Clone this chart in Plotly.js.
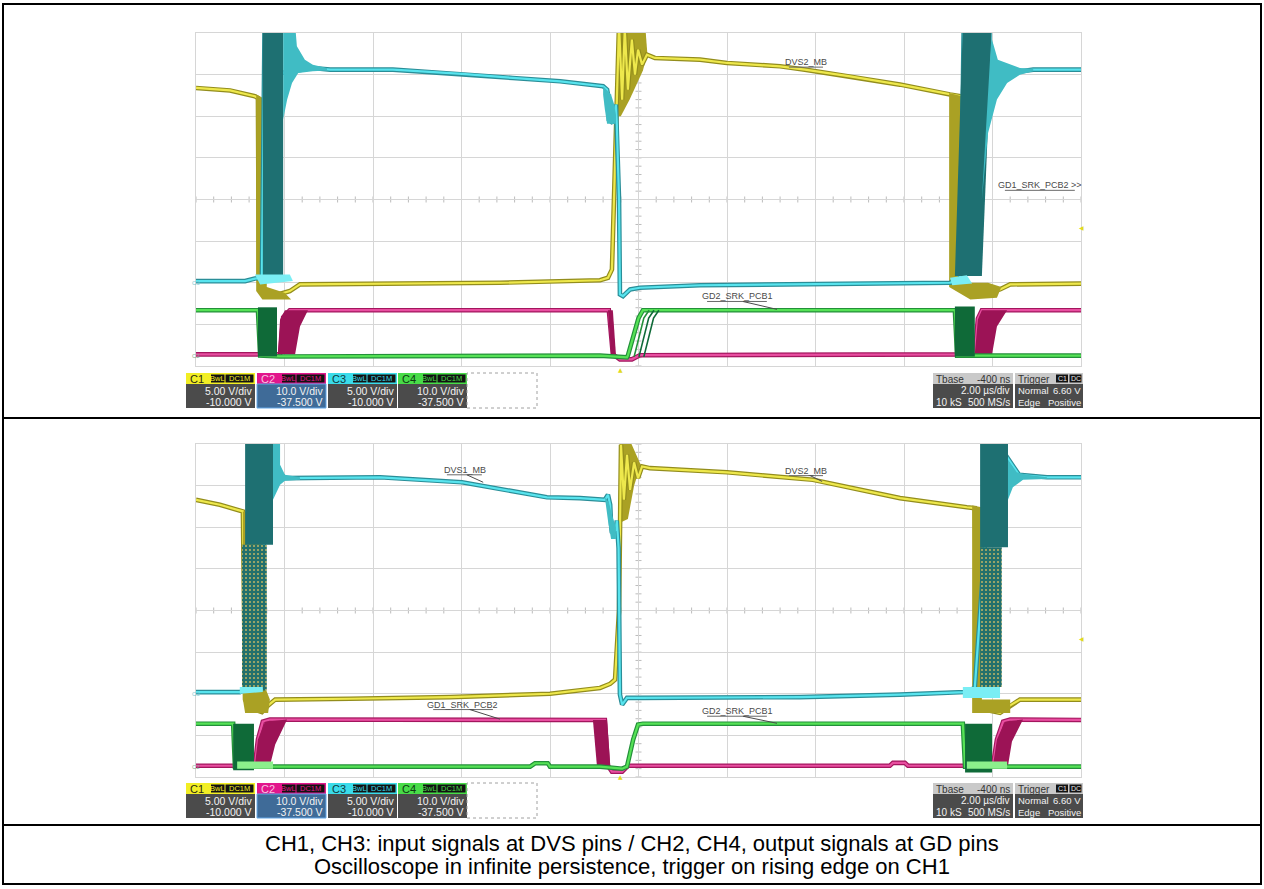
<!DOCTYPE html>
<html>
<head>
<meta charset="utf-8">
<script src="https://cdn.plot.ly/plotly-3.0.1.min.js"></script>
<style>
html,body{margin:0;padding:0;background:#ffffff;overflow:hidden;}
#chart{width:1264px;height:889px;}
</style>
</head>
<body>
<div id="chart"></div>
<script>
// ===== Scope settings (read from the on-screen readouts) =====
const channels      = ['C1', 'C2', 'C3', 'C4'];
const voltsPerDiv   = [5.00, 10.0, 5.00, 10.0];
const channelOffset = [-10.000, -37.500, -10.000, -37.500];
const bwTag = 'BwL', couplingTag = 'DC1M';
const tbaseNs = -400;
const timePerDivUs = 2.00;
const sampleCount = '10 kS', sampleRate = '500 MS/s';
const trigMode = 'Normal', trigType = 'Edge', trigSlope = 'Positive', trigSource = 'C1', trigCoupling = 'DC';
const triggerLevel = 6.60;
const captionLines = [
  'CH1, CH3: input signals at DVS pins / CH2, CH4, output signals at GD pins',
  'Oscilloscope in infinite persistence, trigger on rising edge on CH1'
];

// ===== Top capture (time in µs, values in V) =====
// C1 (yellow, DVS2_MB)
const topC1_t = [-9.6,-8.83,-8.27,-8.20,-8.18,-8.11,-7.81,-7.48,-7.25,-4.99,-2.73,-0.47,-0.29,-0.20,-0.04,0.03,0.09,0.16,0.25,0.32,0.39,0.48,0.59,0.77,1.79,2.40,3.60,4.16,5.18,6.31,7.44,7.67,7.71,8.00,8.57,8.80,10.4];
const topC1_v = [23.4,23.1,22.4,22.2,0.4,-1.0,-1.5,-1.0,-0.2,-0.1,0.0,0.3,0.6,1.6,31,22.0,30.5,23.2,29.2,25.0,28.0,26.2,27.4,27.0,26.8,26.4,26.0,25.6,24.8,23.8,22.6,22.4,-0.2,-1.6,-0.8,-0.2,-0.1];
const topC1_persL_t = [-8.24,-8.02,-8.00,-7.60,-7.45,-8.10,-8.24];
const topC1_persL_v = [22.6,22.0,-0.5,-1.2,-2.0,-2.0,-1.0];
const topC1_ring_t = [-0.05,0.55,0.60,0.50,0.20,0.00,-0.05];
const topC1_ring_v = [31,31,27.5,25.5,22.0,20.0,20.0];
const topC1_persR_t = [7.42,7.71,7.73,8.30,8.60,8.50,7.90,7.42];
const topC1_persR_v = [22.8,22.4,0.0,0.0,-0.5,-1.8,-2.0,-0.5];
// C3 (cyan, DVS1_MB)
const topC3_t = [-9.6,-8.49,-8.27,-8.11,-8.05,-7.9,-6.96,-6.57,-5.15,-3.59,-2.44,-1.37,-0.40,-0.31,-0.27,-0.27,-0.18,-0.11,-0.09,-0.04,-0.02,0.05,0.21,0.43,1.79,4.05,6.31,7.44,7.67,7.75,8.5,9.32,10.4];
const topC3_v = [0.2,0.2,0.5,0.6,31,25,25.8,25.6,25.6,25.1,24.6,24.2,23.6,23.2,22.0,19.6,19.2,21.4,19.0,10,-1.4,-1.6,-0.8,-0.6,-0.3,-0.2,-0.1,0.0,0.4,31,25.0,25.6,25.6];
const topC3_blockL_t = [-8.09,-7.63,-7.63,-8.09];
const topC3_blockL_v = [31,31,0.5,0.5];
const topC3_fanL_t = [-7.63,-7.36,-7.32,-7.14,-6.96,-6.64,-6.64,-6.96,-7.29,-7.43,-7.54,-7.63];
const topC3_fanL_v = [31,31,28.4,26.8,26.2,25.8,25.5,25.4,25.2,24.0,22.0,19.6];
const topC3_blobL_t = [-8.27,-7.48,-7.41,-8.15];
const topC3_blobL_v = [1.0,1.0,0.2,-0.2];
const topC3_trig_t = [-0.40,-0.22,-0.15,-0.11,-0.11,-0.31,-0.36,-0.40];
const topC3_trig_v = [23.6,22.6,21.4,20.2,19.1,19.1,20.8,22.6];
const topC3_blockR_t = [7.73,8.39,8.16,7.55];
const topC3_blockR_v = [31,31,0.8,0.8];
const topC3_fanR_t = [8.39,8.39,8.52,8.73,9.02,9.32,9.32,9.02,8.73,8.50,8.30,8.16];
const topC3_fanR_v = [31,29.2,26.8,26.4,25.8,25.7,25.4,25.0,24.0,22.0,18.0,10.0];
const topC3_blobR_t = [7.44,7.82,7.94,7.49];
const topC3_blobR_v = [0.6,0.9,-0.1,-0.3];
// C2 (magenta, GD1_SRK_PCB2)
const topC2_t = [-9.6,-7.70,-7.63,-7.48,-0.27,-0.18,-0.02,0.25,0.43,8.00,8.07,8.16,10.4];
const topC2_v = [0.3,0.3,9.2,10.9,10.9,0.3,-0.9,-0.9,0.1,0.3,8.9,10.9,10.9];
const topC2_persL_t = [-7.75,-7.70,-7.59,-7.07,-7.25,-7.36];
const topC2_persL_v = [0.3,8.7,10.9,10.9,7.0,0.3];
const topC2_persF_t = [-0.29,-0.18,-0.11,-0.22];
const topC2_persF_v = [10.9,10.9,0.3,0.3];
const topC2_persR_t = [8.00,8.07,8.16,8.73,8.50,8.39];
const topC2_persR_v = [0.3,8.7,10.9,10.9,7.0,0.3];
// C4 (green, GD2_SRK_PCB1)
const topC4_t = [-9.6,-8.20,-8.15,-7.70,-0.47,-0.02,0.14,0.16,0.40,0.50,7.55,7.60,10.4];
const topC4_v = [10.9,10.9,0.0,-0.2,0.0,-0.4,-0.4,0.0,9.0,10.9,10.9,0.0,0.0];
const topC4_echoA_t = [0.30,0.52,0.64], topC4_echoA_v = [-0.3,9.0,10.9];
const topC4_echoB_t = [0.41,0.63,0.75], topC4_echoB_v = [-0.3,9.0,10.9];
const topC4_echoC_t = [0.52,0.74,0.86], topC4_echoC_v = [-0.3,9.0,10.9];
const topC4_blockL_t = [-8.20,-7.77,-7.77,-8.20];
const topC4_blockL_v = [11.6,11.6,-0.2,-0.2];
const topC4_blockR_t = [7.55,8.00,8.00,7.55];
const topC4_blockR_v = [11.8,11.8,-0.2,-0.2];

// ===== Bottom capture =====
const botC1_t = [-9.6,-9.06,-8.54,-8.52,-8.49,-8.38,-8.11,-7.97,-7.81,-6.12,-3.86,-1.60,-0.47,-0.24,-0.13,-0.04,0.005,0.07,0.14,0.21,0.30,0.39,0.48,0.66,2.40,4.34,6.31,7.82,8.00,8.05,8.23,8.57,8.80,9.02,10.4];
const botC1_v = [23.3,22.7,21.9,10,-0.7,-1.7,-2.2,-1.4,-0.7,-0.6,-0.4,0.0,0.7,1.2,1.7,10,29.9,23.3,28.7,24.5,27.8,25.9,27.3,27.1,26.6,25.7,23.5,22.4,22.3,-0.7,-1.9,-2.3,-1.4,-0.7,-0.7];
const botC1_persL_t = [-8.54,-8.11,-8.02,-7.93,-7.97,-8.49,-8.54];
const botC1_persL_v = [21.9,21.9,0.5,-0.7,-2.3,-2.3,-0.7];
const botC1_ring_t = [-0.03,0.20,0.45,0.30,0.16,-0.03];
const botC1_ring_v = [30.5,30.5,27.5,25.0,21.0,20.5];
const botC1_persR_t = [7.94,8.16,8.16,8.80,8.80,7.94];
const botC1_persR_v = [22.6,22.4,-0.7,-0.7,-2.3,-2.3];
const botC3_t = [-9.6,-8.61,-8.38,-8.16,-8.0,-7.7,-7.59,-5.44,-3.59,-1.67,-0.92,-0.36,-0.29,-0.24,-0.22,-0.20,-0.11,-0.09,-0.05,-0.02,0.03,0.14,0.43,4.05,6.31,7.78,8.00,8.4,9.0,9.63,10.4];
const botC3_v = [0.2,0.2,0.7,0.6,31,26.5,25.9,26.0,25.4,23.6,23.5,23.3,23.9,22.7,20.3,19.3,19.7,20.8,17.5,-0.1,-1.3,-0.5,-0.5,-0.4,-0.1,0.2,0.7,31,26.3,26.0,26.0];
const botC3_blockL_t = [-8.49,-7.86,-7.86,-8.49];
const botC3_blockL_v = [31,31,17.9,17.9];
const botC3_speckL_t = [-8.56,-8.00,-8.00,-8.56];
const botC3_speckL_v = [17.9,17.9,0.4,0.4];
const botC3_fanL_t = [-7.86,-7.70,-7.70,-7.59,-7.25,-7.25,-7.59,-7.70,-7.86];
const botC3_fanL_v = [31,31,27.5,26.3,26.0,25.7,25.6,25.1,23.3];
const botC3_blobL_t = [-8.61,-8.09,-8.09,-8.61];
const botC3_blobL_v = [0.8,0.8,0.2,0.0];
const botC3_trig_t = [-0.36,-0.27,-0.20,-0.11,-0.11,-0.22,-0.29];
const botC3_trig_v = [23.6,23.0,21.5,20.0,18.6,18.6,20.8];
const botC3_blockR_t = [8.12,8.75,8.75,8.12];
const botC3_blockR_v = [31,31,17.6,17.6];
const botC3_speckR_t = [8.12,8.61,8.61,8.12];
const botC3_speckR_v = [17.6,17.6,0.8,0.8];
const botC3_fanR_t = [8.75,8.75,8.95,9.18,9.63,9.63,9.09,8.86,8.75];
const botC3_fanR_v = [31,28.1,26.6,26.3,26.0,25.8,25.7,24.8,23.3];
const botC3_blobR_t = [7.73,8.57,8.57,7.73];
const botC3_blobR_v = [0.8,0.8,-0.5,-0.5];
const botC2_t = [-9.6,-8.27,-8.20,-8.09,-7.93,-4.99,-2.44,-0.63,-0.36,-0.29,-0.20,0.03,0.16,6.08,6.15,6.42,6.49,8.41,8.50,8.64,8.80,10.4];
const botC2_v = [0.2,0.2,6.5,10.8,11.3,11.3,11.2,11.2,11.2,0.2,-1.2,-1.2,0.2,0.2,0.9,0.9,0.2,0.2,6.5,10.8,11.3,11.2];
const botC2_persL_t = [-8.27,-8.20,-8.04,-7.54,-7.81,-7.93];
const botC2_persL_v = [0.2,6.5,10.8,11.3,5.3,0.2];
const botC2_persF_t = [-0.63,-0.31,-0.24,-0.54];
const botC2_persF_v = [11.2,11.2,0.2,0.2];
const botC2_persR_t = [8.41,8.50,8.68,9.09,8.84,8.75];
const botC2_persR_v = [0.2,6.5,10.8,11.3,6.0,0.2];
const botC4_t = [-9.6,-8.76,-8.72,-2.05,-1.94,-1.65,-1.60,-0.47,0.03,0.14,0.28,0.39,0.50,7.73,7.78,10.4];
const botC4_v = [10.3,10.3,0.0,0.0,0.8,0.8,0.0,0.0,-0.5,0.0,6.5,10.1,10.3,10.3,0.0,0.0];
const botC4_blockL_t = [-8.76,-8.29,-8.29,-8.76];
const botC4_blockL_v = [10.3,10.3,-0.9,-0.9];
const botC4_blockR_t = [7.78,8.39,8.39,7.78];
const botC4_blockR_v = [10.3,10.3,-1.4,-1.4];
const botC4_blobL_t = [-8.67,-7.86,-7.86,-8.67];
const botC4_blobL_v = [1.2,1.2,-0.5,-0.5];
const botC4_blobR_t = [7.82,8.73,8.73,7.82];
const botC4_blobR_v = [1.2,1.2,-0.5,-0.5];

// ===== Geometry / styling =====
const W = 1264, H = 889;
const GX0 = 196, GX1 = 1081;
const P0 = {gy0: 33,  gy1: 366, box: 373, xa: 'x',  ya: 'y',  yb: 'y3', xk: 'xaxis',  yk: 'yaxis',  ybk: 'yaxis3'};
const P1 = {gy0: 444, gy1: 777, box: 783, xa: 'x2', ya: 'y2', yb: 'y4', xk: 'xaxis2', yk: 'yaxis2', ybk: 'yaxis4'};
const PX = px => px / W;
const PY = py => 1 - py / H;
const FONT = 'Liberation Sans, Arial, Helvetica, sans-serif';
const GRID = '#d6d6d6';

const Y = {bright: '#eee84c', dark: '#938d1c', pers: '#aaa124', blob: '#e4dc48'};
const M = {bright: '#e84ea0', dark: '#a3165e', pers: '#9c1356'};
const C = {bright: '#58e4ee', dark: '#2a8e98', pers: '#1e7072', fan: '#40bcc4', blob: '#7aeef4'};
const G = {bright: '#56e256', dark: '#23903a', pers: '#0f6a38', blob: '#8cf08c'};

const xRange = [-5 * timePerDivUs - tbaseNs / 1000, 5 * timePerDivUs - tbaseNs / 1000];
const vRange = i => [-4 * voltsPerDiv[i] - channelOffset[i], 4 * voltsPerDiv[i] - channelOffset[i]];

const traces = [];
const shapes = [];
const annotations = [];

function yref(p, k) { return k === 'A' ? p.ya : p.yb; }
function addLine(p, k, t, v, color, width) {
  traces.push({type: 'scatter', mode: 'lines', x: t, y: v, xaxis: p.xa, yaxis: yref(p, k),
    line: {color: color, width: width}, hoverinfo: 'skip', showlegend: false});
}
function addTrace(p, k, t, v, col) {
  addLine(p, k, t, v, col.dark, 4.6);
  addLine(p, k, t, v, col.bright, 2.2);
}
function addPoly(p, k, t, v, color, pattern) {
  const tr = {type: 'scatter', mode: 'lines', x: t, y: v, xaxis: p.xa, yaxis: yref(p, k),
    fill: 'toself', fillcolor: color, line: {width: 0, color: color}, hoverinfo: 'skip', showlegend: false};
  if (pattern) tr.fillpattern = pattern;
  traces.push(tr);
}
function rect(x0, y0, x1, y1, fill, line, dash) {
  shapes.push({type: 'rect', xref: 'paper', yref: 'paper', x0: PX(x0), x1: PX(x1), y0: PY(y1), y1: PY(y0),
    fillcolor: fill, line: {color: line || 'rgba(0,0,0,0)', width: line ? 1 : 0, dash: dash || 'solid'}, layer: 'above'});
}
function text(x, y, s, size, color, anchor) {
  annotations.push({xref: 'paper', yref: 'paper', x: PX(x), y: PY(y), text: s, showarrow: false,
    xanchor: anchor || 'left', yanchor: 'middle', borderpad: 0,
    font: {family: FONT, size: size, color: color}});
}
function label(p, k, s, t, v, u0, u1, uv, lead) {
  annotations.push({xref: p.xa, yref: yref(p, k), x: t, y: v, text: s, showarrow: false,
    xanchor: 'center', yanchor: 'middle', borderpad: 0, font: {family: FONT, size: 9, color: '#4a4a4a'}});
  shapes.push({type: 'line', xref: p.xa, yref: yref(p, k), x0: u0, x1: u1, y0: uv, y1: uv,
    line: {color: '#6a6a6a', width: 1}});
  if (lead) shapes.push({type: 'line', xref: p.xa, yref: yref(p, k), x0: lead[0], y0: lead[1], x1: lead[2], y1: lead[3],
    line: {color: '#4a4a4a', width: 1}});
}

// ----- top capture traces -----
addTrace(P0, 'B', topC2_t, topC2_v, M);
addPoly(P0, 'B', topC2_persL_t, topC2_persL_v, M.pers);
addPoly(P0, 'B', topC2_persF_t, topC2_persF_v, M.pers);
addPoly(P0, 'B', topC2_persR_t, topC2_persR_v, M.pers);
addTrace(P0, 'B', topC4_t, topC4_v, G);
addLine(P0, 'B', topC4_echoA_t, topC4_echoA_v, G.dark, 1.6);
addLine(P0, 'B', topC4_echoB_t, topC4_echoB_v, G.pers, 1.6);
addLine(P0, 'B', topC4_echoC_t, topC4_echoC_v, G.pers, 1.6);
addPoly(P0, 'B', topC4_blockL_t, topC4_blockL_v, G.pers);
addPoly(P0, 'B', topC4_blockR_t, topC4_blockR_v, G.pers);
addPoly(P0, 'A', topC1_ring_t, topC1_ring_v, Y.pers);
addTrace(P0, 'A', topC1_t, topC1_v, Y);
addPoly(P0, 'A', topC1_persL_t, topC1_persL_v, Y.pers);
addPoly(P0, 'A', topC1_persR_t, topC1_persR_v, Y.pers);
addTrace(P0, 'A', topC3_t, topC3_v, C);
addPoly(P0, 'A', topC3_blockL_t, topC3_blockL_v, C.pers);
addPoly(P0, 'A', topC3_fanL_t, topC3_fanL_v, C.fan);
addPoly(P0, 'A', topC3_blobL_t, topC3_blobL_v, C.blob);
addPoly(P0, 'A', topC3_trig_t, topC3_trig_v, C.fan);
addPoly(P0, 'A', topC3_blockR_t, topC3_blockR_v, C.pers);
addPoly(P0, 'A', topC3_fanR_t, topC3_fanR_v, C.fan);
addPoly(P0, 'A', topC3_blobR_t, topC3_blobR_v, C.blob);

// ----- bottom capture traces -----
const speckle = {shape: '.', bgcolor: '#22706c', fgcolor: '#b4b066', size: 4, solidity: 0.22};
addTrace(P1, 'B', botC2_t, botC2_v, M);
addPoly(P1, 'B', botC2_persL_t, botC2_persL_v, M.pers);
addPoly(P1, 'B', botC2_persF_t, botC2_persF_v, M.pers);
addPoly(P1, 'B', botC2_persR_t, botC2_persR_v, M.pers);
addTrace(P1, 'B', botC4_t, botC4_v, G);
addPoly(P1, 'B', botC4_blockL_t, botC4_blockL_v, G.pers);
addPoly(P1, 'B', botC4_blockR_t, botC4_blockR_v, G.pers);
addPoly(P1, 'B', botC4_blobL_t, botC4_blobL_v, G.blob);
addPoly(P1, 'B', botC4_blobR_t, botC4_blobR_v, G.blob);
addPoly(P1, 'A', botC1_ring_t, botC1_ring_v, Y.pers);
addTrace(P1, 'A', botC1_t, botC1_v, Y);
addPoly(P1, 'A', botC1_persL_t, botC1_persL_v, Y.pers);
addPoly(P1, 'A', botC1_persR_t, botC1_persR_v, Y.pers);
addTrace(P1, 'A', botC3_t, botC3_v, C);
addPoly(P1, 'A', botC3_blockL_t, botC3_blockL_v, C.pers);
addPoly(P1, 'A', botC3_speckL_t, botC3_speckL_v, '#22706c', speckle);
addPoly(P1, 'A', botC3_fanL_t, botC3_fanL_v, C.fan);
addPoly(P1, 'A', botC3_blobL_t, botC3_blobL_v, C.blob);
addPoly(P1, 'A', botC3_trig_t, botC3_trig_v, C.fan);
addPoly(P1, 'A', botC3_blockR_t, botC3_blockR_v, C.pers);
addPoly(P1, 'A', botC3_speckR_t, botC3_speckR_v, '#22706c', speckle);
addPoly(P1, 'A', botC3_fanR_t, botC3_fanR_v, C.fan);
addPoly(P1, 'A', botC3_blobR_t, botC3_blobR_v, C.blob);

// ----- trace labels -----
label(P0, 'A', 'DVS2_MB', 4.19, 26.5, 3.80, 4.57, 25.9, null);
label(P0, 'A', 'GD1_SRK_PCB2 >>', 9.47, 11.7, 8.68, 10.26, 11.1, null);
label(P0, 'B', 'GD2_SRK_PCB1', 2.63, 14.3, 1.95, 3.30, 13.0, [2.76, 13.0, 3.53, 11.1]);
label(P1, 'A', 'DVS1_MB', -3.52, 26.9, -3.93, -3.14, 26.3, [-3.48, 26.3, -3.11, 25.4]);
label(P1, 'A', 'DVS2_MB', 4.19, 26.8, 3.80, 4.57, 26.2, [4.28, 26.2, 4.55, 25.5]);
label(P1, 'B', 'GD1_SRK_PCB2', -3.57, 14.9, -4.24, -2.89, 13.7, [-3.41, 13.7, -2.73, 11.4]);
label(P1, 'B', 'GD2_SRK_PCB1', 2.63, 13.4, 1.95, 3.30, 12.1, [2.76, 12.1, 3.53, 10.4]);

// ----- axes, grid ticks, readout boxes -----
const layout = {
  width: W, height: H, margin: {l: 0, r: 0, t: 0, b: 0, pad: 0},
  paper_bgcolor: '#ffffff', plot_bgcolor: '#ffffff',
  showlegend: false, hovermode: false, shapes: shapes, annotations: annotations
};

const headerColor = ['#f2ee24', '#e2168c', '#3adcea', '#48dc48'];
const headerInk   = ['#2a2a10', '#f7c4e2', '#0e3a40', '#0e3a12'];
const bodyColor   = ['#4b4b4b', '#3f6b98', '#4b4b4b', '#4b4b4b'];
const boxLeft = [186, 257, 328, 398];
const BF = 10.5;

[P0, P1].forEach(p => {
  const vr = vRange(0);
  layout[p.xk] = {domain: [PX(GX0), PX(GX1)], range: xRange, anchor: p.ya, tickmode: 'linear', tick0: xRange[0],
    dtick: timePerDivUs, showgrid: true, gridcolor: GRID, gridwidth: 1, zeroline: false, showticklabels: false,
    ticks: '', showline: true, mirror: true, linecolor: GRID, linewidth: 1, fixedrange: true};
  layout[p.yk] = {domain: [PY(p.gy1), PY(p.gy0)], range: vr, anchor: p.xa, tickmode: 'linear', tick0: vr[0],
    dtick: voltsPerDiv[0], showgrid: true, gridcolor: GRID, gridwidth: 1, zeroline: false, showticklabels: false,
    ticks: '', showline: true, mirror: true, linecolor: GRID, linewidth: 1, fixedrange: true};
  layout[p.ybk] = {overlaying: p.ya, range: vRange(1), anchor: p.xa, visible: false, fixedrange: true};

  // minor ticks on the centre cross
  const vc = (vr[0] + vr[1]) / 2, tc = (xRange[0] + xRange[1]) / 2;
  const dv = voltsPerDiv[0] * 3 / 41.6, dt = timePerDivUs * 3 / 88.5;
  let d = '';
  for (let k = 0; k <= 50; k++) { const t = xRange[0] + k * timePerDivUs / 5; d += `M${t.toFixed(3)},${(vc - dv).toFixed(3)}L${t.toFixed(3)},${(vc + dv).toFixed(3)}`; }
  for (let k = 0; k <= 40; k++) { const v = vr[0] + k * voltsPerDiv[0] / 5; d += `M${(tc - dt).toFixed(3)},${v.toFixed(3)}L${(tc + dt).toFixed(3)},${v.toFixed(3)}`; }
  shapes.push({type: 'path', xref: p.xa, yref: p.ya, path: d, line: {color: '#bcbcbc', width: 1}, layer: 'below'});

  // trigger markers
  annotations.push({xref: p.xa, yref: 'paper', x: 0, y: PY(p.gy1 + 4), text: '▲', showarrow: false,
    font: {family: 'DejaVu Sans', size: 6, color: '#e2da1c'}, borderpad: 0});
  annotations.push({xref: 'paper', yref: p.ya, x: PX(GX1 + 4), y: triggerLevel, text: '◀', showarrow: false,
    font: {family: 'DejaVu Sans', size: 6, color: '#e2da1c'}, borderpad: 0});
  // ground markers
  annotations.push({xref: 'paper', yref: p.ya, x: PX(GX0 - 5), y: 0, text: 'C3', showarrow: false,
    font: {family: FONT, size: 6, color: '#7cc8d0'}, borderpad: 0});
  annotations.push({xref: 'paper', yref: p.yb, x: PX(GX0 - 5), y: 0, text: 'C2', showarrow: false,
    font: {family: FONT, size: 6, color: '#8aa890'}, borderpad: 0});

  // channel readout boxes
  const y0 = p.box;
  channels.forEach((ch, i) => {
    const x0 = boxLeft[i], x1 = x0 + 69;
    rect(x0, y0, x1, y0 + 11, headerColor[i]);
    text(x0 + 3, y0 + 6, ch, 11, headerInk[i], 'left');
    rect(x0 + 25, y0 + 1.5, x0 + 38.5, y0 + 9.5, '#121212');
    text(x0 + 31.75, y0 + 5.7, bwTag, 7.5, headerColor[i], 'center');
    rect(x0 + 39.5, y0 + 1.5, x1 - 1.5, y0 + 9.5, '#121212');
    text((x0 + 39.5 + x1 - 1.5) / 2, y0 + 5.7, couplingTag, 7.5, headerColor[i], 'center');
    rect(x0, y0 + 11, x1, y0 + 35, bodyColor[i], i === 1 ? '#62a6e6' : null);
    text(x1 - 2, y0 + 17.5, voltsPerDiv[i].toPrecision(3) + ' V/div', BF, '#f2f2f2', 'right');
    text(x1 - 2, y0 + 29, channelOffset[i].toFixed(3) + ' V', BF, '#f2f2f2', 'right');
  });
  rect(467, y0, 537, y0 + 35, 'rgba(0,0,0,0)', '#a0a0a0', 'dot');

  // timebase box
  rect(933, y0, 1013, y0 + 11, '#c9c9c9');
  text(935, y0 + 6, 'Tbase', 10, '#333333', 'left');
  text(1011, y0 + 6, tbaseNs + ' ns', 10, '#333333', 'right');
  rect(933, y0 + 11, 1013, y0 + 35, '#4b4b4b');
  text(1011, y0 + 17.5, timePerDivUs.toFixed(2) + ' µs/div', 10, '#f2f2f2', 'right');
  text(935, y0 + 29, sampleCount, 10, '#f2f2f2', 'left');
  text(1011, y0 + 29, sampleRate, 10, '#f2f2f2', 'right');
  // trigger box
  rect(1015, y0, 1083, y0 + 11, '#c9c9c9');
  text(1016.5, y0 + 6, 'Trigger', 10, '#333333', 'left');
  rect(1056, y0 + 1.5, 1068, y0 + 9.5, '#121212');
  text(1062, y0 + 5.7, trigSource, 7, '#e8e8e8', 'center');
  rect(1069.5, y0 + 1.5, 1081.5, y0 + 9.5, '#121212');
  text(1075.5, y0 + 5.7, trigCoupling, 7, '#e8e8e8', 'center');
  rect(1015, y0 + 11, 1083, y0 + 35, '#4b4b4b');
  text(1016.5, y0 + 17.5, trigMode, 9.5, '#f2f2f2', 'left');
  text(1082, y0 + 17.5, triggerLevel.toFixed(2) + ' V', 9.5, '#f2f2f2', 'right');
  text(1016.5, y0 + 29, trigType, 9.5, '#f2f2f2', 'left');
  text(1082, y0 + 29, trigSlope, 9.5, '#f2f2f2', 'right');
});

// ----- table frame and caption -----
shapes.push({type: 'rect', xref: 'paper', yref: 'paper', x0: PX(3), x1: PX(1261), y0: PY(884), y1: PY(4),
  line: {color: '#000000', width: 2}, fillcolor: 'rgba(0,0,0,0)', layer: 'above'});
[418, 825].forEach(py => shapes.push({type: 'line', xref: 'paper', yref: 'paper', x0: PX(3), x1: PX(1261),
  y0: PY(py), y1: PY(py), line: {color: '#000000', width: 2}, layer: 'above'}));
text(632, 843, captionLines[0], 22, '#000000', 'center');
text(632, 866, captionLines[1], 22, '#000000', 'center');

Plotly.newPlot('chart', traces, layout, {staticPlot: true, displayModeBar: false});
</script>
</body>
</html>
